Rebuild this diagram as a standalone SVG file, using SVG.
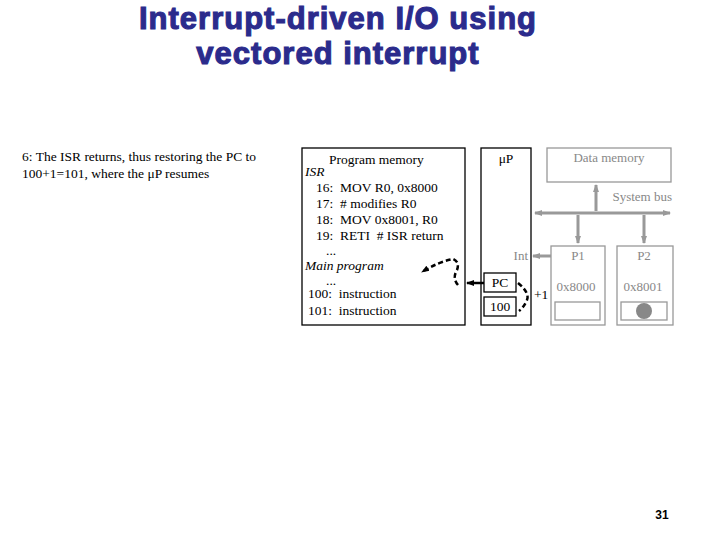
<svg xmlns="http://www.w3.org/2000/svg" width="720" height="540" viewBox="0 0 720 540">
<style>
.t{font-family:"Liberation Serif","Times New Roman","DejaVu Serif",serif;font-size:13.5px;fill:#000;white-space:pre}
.g{font-family:"Liberation Serif","Times New Roman","DejaVu Serif",serif;font-size:13px;fill:#888}
.bx{fill:#fff;stroke:#000;stroke-width:1.3}
.gb{fill:#fff;stroke:#999;stroke-width:1.3}
.title{font-family:"Liberation Sans",Arial,sans-serif;font-weight:bold;font-size:31px;fill:#2b2b8c;stroke:#2b2b8c;stroke-width:1.1;text-anchor:middle;letter-spacing:1px}
</style>
<defs>
<marker id="ga" markerWidth="8" markerHeight="8" refX="7" refY="4" orient="auto-start-reverse" markerUnits="userSpaceOnUse"><path d="M0,1 L8,4 L0,7Z" fill="#999"/></marker>
<marker id="ba" markerWidth="8" markerHeight="8" refX="7" refY="4" orient="auto" markerUnits="userSpaceOnUse"><path d="M0,1 L8,4 L0,7Z" fill="#000"/></marker>
</defs>
<rect width="720" height="540" fill="#fff"/>
<g id="title">
<text class="title" x="338" y="29">Interrupt-driven I/O using</text>
<text class="title" x="338" y="64">vectored interrupt</text>
</g>
<g id="desc">
<text class="t" x="22" y="161">6: The ISR returns, thus restoring the PC to</text>
<text class="t" x="22" y="178">100+1=101, where the μP resumes</text>
</g>
<g id="progmem">
<rect class="bx" x="302" y="148" width="163" height="177"/>
<text class="t" x="329" y="164">Program memory</text>
<text class="t" x="305" y="176" font-style="italic">ISR</text>
<text class="t" x="316" y="192">16:  MOV R0, 0x8000</text>
<text class="t" x="316" y="208">17:  # modifies R0</text>
<text class="t" x="316" y="224">18:  MOV 0x8001, R0</text>
<text class="t" x="316" y="240">19:  RETI  # ISR return</text>
<text class="t" x="326" y="255" font-size="10">...</text>
<text class="t" x="305" y="270" font-style="italic">Main program</text>
<text class="t" x="326" y="285" font-size="10">...</text>
<text class="t" x="308" y="298">100:  instruction</text>
<text class="t" x="308" y="315">101:  instruction</text>
</g>
<g id="up">
<rect class="bx" x="481" y="148" width="50" height="177"/>
<text class="t" x="506" y="163" text-anchor="middle">μP</text>
</g>
<g id="pc">
<rect class="bx" x="484" y="273" width="32" height="19"/>
<text class="t" x="500" y="287" text-anchor="middle">PC</text>
</g>
<g id="pcval">
<rect class="bx" x="484" y="297" width="32" height="19"/>
<text class="t" x="500" y="311" text-anchor="middle">100</text>
</g>
<g id="datamem">
<rect class="gb" x="547" y="148" width="124" height="34"/>
<text class="g" x="609" y="162" text-anchor="middle">Data memory</text>
</g>
<g id="p1">
<rect class="gb" x="551" y="246" width="54" height="79"/>
<text class="g" x="578" y="260" text-anchor="middle">P1</text>
<text class="g" x="576" y="291" text-anchor="middle">0x8000</text>
<rect class="gb" x="555" y="302" width="45" height="18"/>
</g>
<g id="p2">
<rect class="gb" x="617" y="246" width="56" height="79"/>
<text class="g" x="644" y="260" text-anchor="middle">P2</text>
<text class="g" x="643" y="291" text-anchor="middle">0x8001</text>
<rect class="gb" x="621" y="302" width="46" height="18"/>
<circle cx="644" cy="311" r="8" fill="#888"/>
</g>
<g id="labels">
<text class="g" x="672" y="201" text-anchor="end">System bus</text>
<text class="g" x="528" y="260" text-anchor="end">Int</text>
<text class="t" x="534" y="299">+1</text>
</g>
<g id="connectors" fill="none">
<line x1="535" y1="213" x2="670" y2="213" stroke="#999" stroke-width="3" marker-start="url(#ga)" marker-end="url(#ga)"/>
<line x1="596" y1="185" x2="596" y2="211" stroke="#999" stroke-width="3" marker-start="url(#ga)"/>
<line x1="578" y1="215" x2="578" y2="243" stroke="#999" stroke-width="3" marker-end="url(#ga)"/>
<line x1="644" y1="215" x2="644" y2="243" stroke="#999" stroke-width="3" marker-end="url(#ga)"/>
<line x1="551" y1="256" x2="533" y2="256" stroke="#999" stroke-width="3" marker-end="url(#ga)"/>
<line x1="484" y1="283" x2="467" y2="283" stroke="#000" stroke-width="2.5" marker-end="url(#ba)"/>
<path d="M458,285 Q452,278 457,270 Q460,262 453,259 Q438,262 422,272" stroke="#000" stroke-width="2.5" stroke-dasharray="5,3" marker-end="url(#ba)"/>
<path d="M518,283 Q530,293 527,300 Q524,307 519,311" stroke="#000" stroke-width="2.5" stroke-dasharray="5,3"/>
</g>
<text x="662" y="519" font-family="Liberation Sans,sans-serif" font-size="12" font-weight="bold" text-anchor="middle">31</text>
</svg>
